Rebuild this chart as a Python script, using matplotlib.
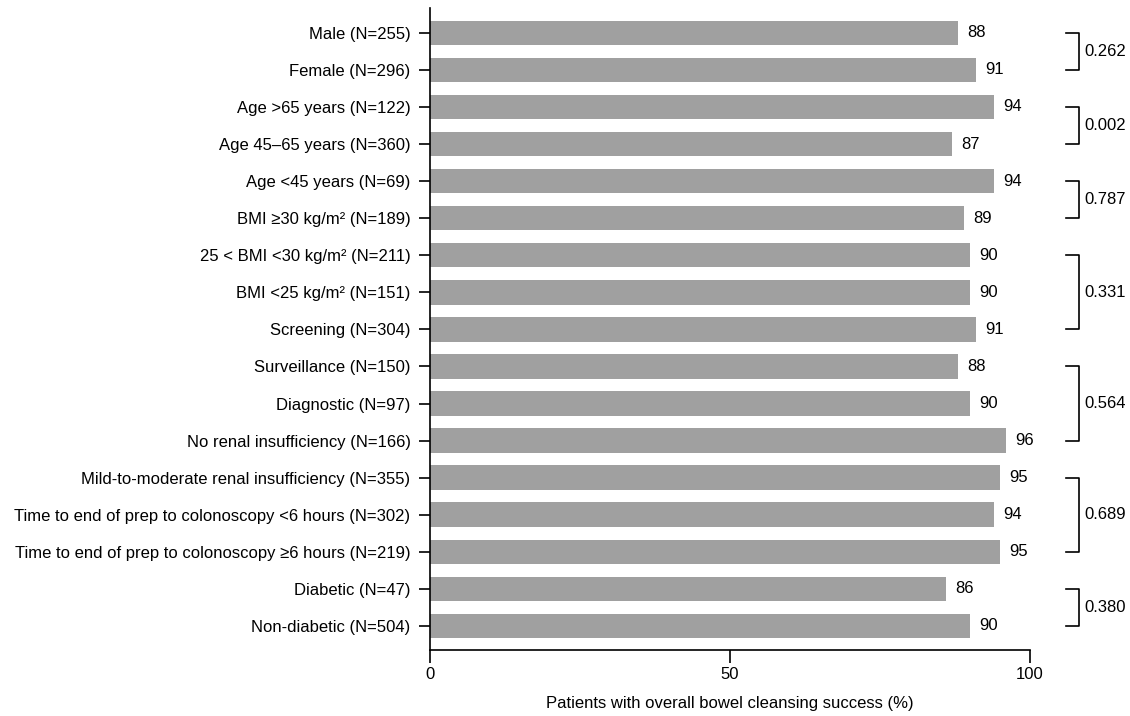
import matplotlib
matplotlib.use("Agg")
import matplotlib.pyplot as plt

plt.rcParams['font.family'] = ['Liberation Sans', 'DejaVu Sans']

# Datos
categorias = [
    "Male (N=255)",
    "Female (N=296)",
    "Age >65 years (N=122)",
    "Age 45\u201365 years (N=360)",
    "Age <45 years (N=69)",
    "BMI \u226530 kg/m\u00b2 (N=189)",
    "25 < BMI <30 kg/m\u00b2 (N=211)",
    "BMI <25 kg/m\u00b2 (N=151)",
    "Screening (N=304)",
    "Surveillance (N=150)",
    "Diagnostic (N=97)",
    "No renal insufficiency (N=166)",
    "Mild-to-moderate renal insufficiency (N=355)",
    "Time to end of prep to colonoscopy <6 hours (N=302)",
    "Time to end of prep to colonoscopy \u22656 hours (N=219)",
    "Diabetic (N=47)",
    "Non-diabetic (N=504)",
]
valores = [88, 91, 94, 87, 94, 89, 90, 90, 91, 88, 90, 96, 95, 94, 95, 86, 90]

# Grupos de comparacion (fila inicial, fila final) y valor p
grupos = [(0, 1), (2, 3), (4, 5), (6, 8), (9, 11), (12, 14), (15, 16)]
valores_p = ["0.262", "0.002", "0.787", "0.331", "0.564", "0.689", "0.380"]

fs = 12.0

fig = plt.figure(figsize=(11.3, 7.16), dpi=100)
ax = fig.add_axes([0.3805, 0.0922, 0.531, 0.8966])

pos = list(range(len(categorias)))
ax.barh(pos, valores, height=0.66, color="#a0a0a0")

for y, v in zip(pos, valores):
    ax.text(v + 1.5, y, str(v), va="center", ha="left", fontsize=fs)

# Corchetes con valores p
for (a, b), p in zip(grupos, valores_p):
    ax.plot([106, 108.1, 108.1, 106], [a, a, b, b], color="black", lw=1.2,
            clip_on=False)
    ax.text(109.0, (a + b) / 2, p, va="center", ha="left", fontsize=fs)

ax.set_yticks(pos)
ax.set_yticklabels(categorias, fontsize=fs)
ax.set_ylim(16.65, -0.67)
ax.set_xlim(0, 100)
ax.set_xticks([0, 50, 100])
ax.tick_params(axis="x", labelsize=fs, length=9, width=1.2, pad=3)
ax.tick_params(axis="y", length=8, width=1.2, pad=6)
ax.set_xlabel("Patients with overall bowel cleansing success (%)",
              fontsize=fs, labelpad=10)

ax.spines["top"].set_visible(False)
ax.spines["right"].set_visible(False)
ax.spines["left"].set_linewidth(1.2)
ax.spines["bottom"].set_linewidth(1.2)

fig.savefig("out.png", dpi=100)
